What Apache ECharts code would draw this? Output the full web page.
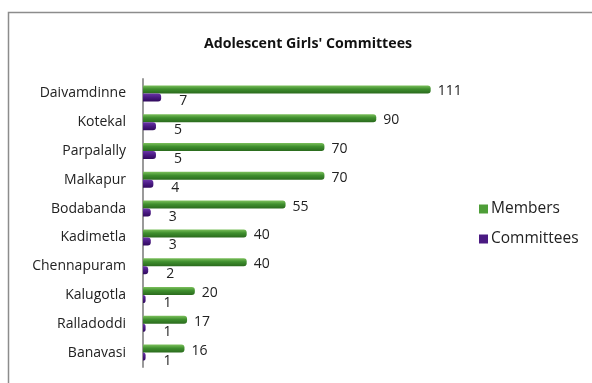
<!DOCTYPE html>
<html>
<head>
<meta charset="utf-8">
<script src="https://cdn.jsdelivr.net/npm/echarts@6/dist/echarts.min.js"></script>
<style>
  html, body { margin: 0; padding: 0; background: #fff; }
  #chart { width: 592px; height: 383px; }
</style>
</head>
<body>
<div id="chart"></div>
<script>
// Villages, top to bottom
const villages = ['Daivamdinne', 'Kotekal', 'Parpalally', 'Malkapur', 'Bodabanda',
  'Kadimetla', 'Chennapuram', 'Kalugotla', 'Ralladoddi', 'Banavasi'];
// Number of members per village
const members = [111, 90, 70, 70, 55, 40, 40, 20, 17, 16];
// Number of committees per village
const committees = [7, 5, 5, 4, 3, 3, 2, 1, 1, 1];

const FONT = '"Open Sans", Lato, sans-serif';

const greenFill = new echarts.graphic.LinearGradient(0, 0, 0, 1, [
  { offset: 0, color: '#7cc05c' },
  { offset: 0.45, color: '#3f8f2e' },
  { offset: 1, color: '#2a6a1d' }
]);
const purpleFill = new echarts.graphic.LinearGradient(0, 0, 0, 1, [
  { offset: 0, color: '#6a35a8' },
  { offset: 0.5, color: '#4a1a82' },
  { offset: 1, color: '#300a5c' }
]);

const chart = echarts.init(document.getElementById('chart'), null, { renderer: 'canvas' });
chart.setOption({
  animation: false,
  backgroundColor: '#ffffff',
  title: {
    text: "Adolescent Girls' Committees",
    left: 303,
    top: 32,
    textAlign: 'center',
    textStyle: { fontFamily: FONT, fontSize: 14.2, fontWeight: 'bold', color: '#111' }
  },
  graphic: [{
    type: 'rect',
    shape: { x: 8.5, y: 12.5, width: 700, height: 500 },
    style: { fill: 'none', stroke: '#8c8c8c', lineWidth: 1.5 },
    silent: true
  }],
  legend: {
    orient: 'vertical',
    left: 474,
    top: 196,
    itemWidth: 9,
    itemHeight: 9,
    itemGap: 14,
    icon: 'rect',
    textStyle: { fontFamily: FONT, fontSize: 15.5, color: '#222', padding: [0, 0, 0, -2] },
    data: [
      { name: 'Members', itemStyle: { color: '#4e9e38' } },
      { name: 'Committees', itemStyle: { color: '#4a1a82' } }
    ]
  },
  grid: { left: 143, right: 138, top: 79, bottom: 16 },
  xAxis: {
    type: 'value',
    min: 0,
    max: 120,
    show: false
  },
  yAxis: {
    type: 'category',
    data: villages,
    inverse: true,
    axisLine: { lineStyle: { color: '#9a9a9a', width: 2 } },
    axisTick: { length: 6, lineStyle: { color: '#9a9a9a', width: 1.2 } },
    axisLabel: { fontFamily: FONT, fontSize: 14, color: '#222', margin: 17 }
  },
  series: [
    {
      name: 'Members',
      type: 'bar',
      data: members,
      barWidth: 8,
      barGap: '0%',
      itemStyle: { color: greenFill, borderRadius: [0, 3, 3, 0] },
      label: {
        show: true,
        position: 'right',
        distance: 7,
        offset: [0, 2],
        fontFamily: FONT,
        fontSize: 14,
        color: '#222'
      }
    },
    {
      name: 'Committees',
      type: 'bar',
      data: committees,
      barWidth: 8,
      barGap: '0%',
      itemStyle: { color: purpleFill, borderRadius: [0, 3, 3, 0] },
      label: {
        show: true,
        position: 'right',
        distance: 18,
        offset: [0, 4],
        fontFamily: FONT,
        fontSize: 14,
        color: '#222'
      }
    }
  ]
});
</script>
</body>
</html>
